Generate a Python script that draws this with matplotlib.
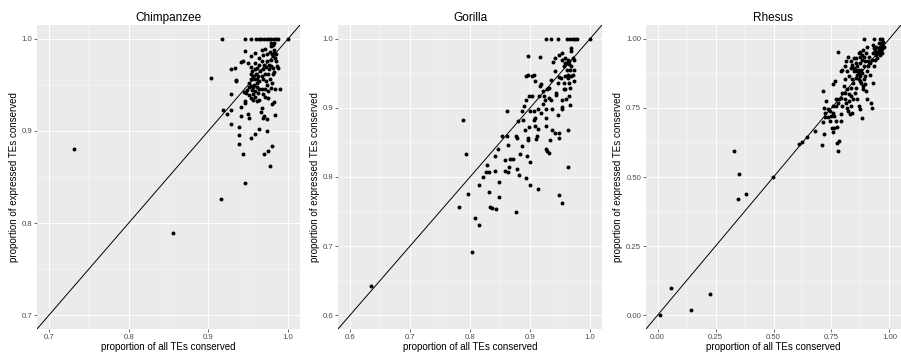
import matplotlib
matplotlib.use("Agg")
import matplotlib.pyplot as plt
import numpy as np

# -----------------------------
# data
# -----------------------------
chimp_x = [0.731, 0.856, 0.916, 0.946, 0.917, 0.903, 1.0,
           0.946, 0.953, 0.960, 0.963, 0.966, 0.970, 0.973, 0.976, 0.979, 0.982, 0.985, 0.988,
           0.946, 0.941, 0.943, 0.934, 0.929, 0.935, 0.935, 0.929, 0.918, 0.924, 0.928, 0.929,
           0.939, 0.938, 0.938, 0.943, 0.941, 0.941, 0.946, 0.946, 0.945, 0.950, 0.951, 0.954,
           0.959, 0.963, 0.966, 0.968, 0.970, 0.974, 0.973, 0.970, 0.975, 0.977, 0.980, 0.980,
           0.982, 0.984, 0.990, 0.984, 0.975, 0.975, 0.967, 0.961, 0.959, 0.955, 0.951, 0.953,
           0.950, 0.953, 0.959, 0.967, 0.971, 0.978, 0.981, 0.982, 0.983, 0.981, 0.984, 0.985,
           0.985, 0.979, 0.976, 0.973, 0.970, 0.967, 0.963, 0.961, 0.959, 0.955, 0.954, 0.956,
           0.960, 0.962, 0.965, 0.968, 0.972, 0.976, 0.979, 0.981, 0.981, 0.977, 0.972, 0.968,
           0.964, 0.961, 0.957, 0.954, 0.951, 0.956, 0.961, 0.963, 0.967, 0.971, 0.968, 0.962,
           0.959, 0.956, 0.951, 0.948, 0.947, 0.953, 0.956, 0.964, 0.971, 0.978, 0.975, 0.971,
           0.967, 0.954, 0.958, 0.963, 0.969, 0.974, 0.977, 0.980, 0.978, 0.982, 0.986, 0.987,
           0.983, 0.980, 0.974, 0.961, 0.959, 0.955]
chimp_y = [0.880, 0.789, 0.826, 0.844, 1.0, 0.958, 1.0,
           1.0, 1.0, 1.0, 1.0, 1.0, 1.0, 1.0, 1.0, 1.0, 1.0, 1.0, 1.0,
           0.987, 0.975, 0.976, 0.968, 0.967, 0.955, 0.954, 0.940, 0.923, 0.918, 0.923, 0.908,
           0.904, 0.896, 0.886, 0.875, 0.926, 0.916, 0.930, 0.933, 0.942, 0.918, 0.914, 0.892,
           0.897, 0.902, 0.921, 0.914, 0.916, 0.913, 0.900, 0.875, 0.878, 0.862, 0.884, 0.929,
           0.931, 0.945, 0.946, 0.917, 0.936, 0.943, 0.925, 0.933, 0.937, 0.944, 0.952, 0.956,
           0.974, 0.981, 0.985, 0.988, 0.989, 0.992, 0.993, 0.988, 0.985, 0.981, 0.979, 0.976,
           0.984, 0.977, 0.972, 0.976, 0.972, 0.976, 0.972, 0.968, 0.967, 0.965, 0.962, 0.960,
           0.962, 0.960, 0.965, 0.967, 0.969, 0.967, 0.971, 0.968, 0.962, 0.956, 0.954, 0.956,
           0.954, 0.952, 0.950, 0.949, 0.948, 0.948, 0.948, 0.946, 0.945, 0.945, 0.940, 0.941,
           0.943, 0.940, 0.939, 0.944, 0.941, 0.936, 0.934, 0.934, 0.937, 0.947, 0.962, 0.962,
           0.960, 0.969, 0.974, 0.979, 0.982, 0.983, 0.986, 0.984, 0.995, 0.995, 0.971, 0.968,
           0.964, 0.952, 0.950, 0.956, 0.956, 0.956]

gorilla_x = [0.927, 0.935, 0.947, 0.962, 0.966, 0.971, 0.975, 0.979, 1.0, 0.635,
             0.789, 0.794, 0.782, 0.797, 0.808, 0.815, 0.804, 0.815, 0.821, 0.827, 0.828,
             0.832, 0.831, 0.834, 0.837, 0.843, 0.849, 0.849, 0.841, 0.841, 0.846, 0.854,
             0.861, 0.861, 0.858, 0.859, 0.863, 0.864, 0.865, 0.867, 0.871, 0.876, 0.877,
             0.879, 0.880, 0.879, 0.881, 0.883, 0.887, 0.886, 0.890, 0.889, 0.892, 0.893,
             0.893, 0.894, 0.896, 0.896, 0.896, 0.896, 0.895, 0.898, 0.898, 0.900, 0.900,
             0.900, 0.903, 0.904, 0.906, 0.906, 0.906, 0.908, 0.908, 0.909, 0.910, 0.911,
             0.913, 0.913, 0.914, 0.915, 0.916, 0.917, 0.918, 0.919, 0.921, 0.922, 0.924,
             0.925, 0.926, 0.926, 0.927, 0.927, 0.929, 0.932, 0.928, 0.931, 0.932, 0.935,
             0.935, 0.936, 0.933, 0.937, 0.941, 0.941, 0.938, 0.942, 0.948, 0.953, 0.943,
             0.944, 0.946, 0.948, 0.951, 0.947, 0.948, 0.949, 0.948, 0.953, 0.953, 0.954,
             0.953, 0.956, 0.957, 0.958, 0.959, 0.960, 0.961, 0.963, 0.965, 0.964, 0.965,
             0.965, 0.964, 0.963, 0.966, 0.967, 0.968, 0.969, 0.971, 0.969, 0.969, 0.973,
             0.973, 0.974, 0.965, 0.961, 0.957, 0.967, 0.972, 0.964, 0.953, 0.958, 0.958]
gorilla_y = [1.0, 1.0, 1.0, 1.0, 1.0, 1.0, 1.0, 1.0, 1.0, 0.642,
             0.883, 0.833, 0.756, 0.776, 0.741, 0.730, 0.692, 0.789, 0.800, 0.807, 0.817,
             0.807, 0.778, 0.756, 0.755, 0.754, 0.793, 0.771, 0.808, 0.830, 0.840, 0.859,
             0.860, 0.896, 0.824, 0.809, 0.807, 0.847, 0.814, 0.826, 0.826, 0.750, 0.859,
             0.857, 0.881, 0.812, 0.803, 0.834, 0.845, 0.896, 0.903, 0.883, 0.868, 0.798,
             0.912, 0.946, 0.947, 0.975, 0.856, 0.854, 0.830, 0.917, 0.872, 0.895, 0.821,
             0.789, 0.917, 0.946, 0.948, 0.882, 0.895, 0.886, 0.874, 0.939, 0.855, 0.859,
             0.869, 0.783, 0.899, 0.917, 0.974, 0.932, 0.934, 0.893, 0.905, 0.924, 0.917,
             0.912, 0.898, 0.886, 0.874, 0.840, 0.838, 0.835, 0.927, 0.929, 0.915, 0.941,
             0.912, 0.898, 0.853, 0.868, 0.864, 0.954, 0.967, 0.972, 0.976, 0.979, 0.919,
             0.922, 0.936, 0.945, 0.943, 0.890, 0.864, 0.857, 0.774, 0.762, 0.899, 0.902,
             0.912, 0.927, 0.936, 0.946, 0.927, 0.913, 0.955, 0.970, 0.968, 0.943, 0.936,
             0.917, 0.868, 0.815, 0.904, 0.929, 0.946, 0.961, 0.972, 0.987, 0.982, 0.970,
             0.955, 0.939, 0.963, 0.965, 0.960, 0.955, 0.948, 0.948, 0.970, 0.972, 0.965]

rhesus_x = [0.011, 0.057, 0.146, 0.227, 0.331, 0.352, 0.347, 0.380, 0.499, 0.611,
            0.624, 0.646, 0.680, 0.709, 0.712, 0.716, 0.713, 0.727, 0.717, 0.724, 0.721,
            0.735, 0.742, 0.749, 0.752, 0.755, 0.760, 0.763, 0.770, 0.773, 0.774, 0.781,
            0.777, 0.758, 0.780, 0.766, 0.770, 0.770, 0.784, 0.791, 0.791, 0.791, 0.797,
            0.802, 0.808, 0.809, 0.815, 0.823, 0.830, 0.836, 0.840, 0.844, 0.813, 0.823,
            0.833, 0.847, 0.854, 0.819, 0.826, 0.833, 0.840, 0.847, 0.844, 0.858, 0.861,
            0.868, 0.861, 0.868, 0.875, 0.877, 0.875, 0.881, 0.889, 0.891, 0.886, 0.896,
            0.900, 0.905, 0.861, 0.875, 0.881, 0.868, 0.907, 0.911, 0.909, 0.916, 0.923,
            0.928, 0.889, 0.935, 0.961, 0.968, 0.920, 0.925, 0.930, 0.935, 0.937, 0.942,
            0.944, 0.947, 0.951, 0.953, 0.955, 0.958, 0.961, 0.964, 0.967, 0.969, 0.972,
            0.975, 0.969, 0.963, 0.954, 0.944, 0.937, 0.933, 0.928, 0.903, 0.886, 0.875,
            0.868, 0.872, 0.881, 0.891, 0.900, 0.881, 0.896, 0.858, 0.840, 0.836, 0.847,
            0.854, 0.861, 0.868, 0.872, 0.877, 0.855, 0.826, 0.819, 0.808, 0.797, 0.808,
            0.791, 0.777, 0.756, 0.744, 0.735, 0.756, 0.797, 0.811, 0.825, 0.833, 0.850,
            0.886, 0.896, 0.905, 0.916]
rhesus_y = [0.0, 0.097, 0.019, 0.078, 0.595, 0.512, 0.420, 0.439, 0.499, 0.621,
            0.627, 0.645, 0.667, 0.616, 0.699, 0.656, 0.812, 0.775, 0.751, 0.733, 0.718,
            0.718, 0.703, 0.721, 0.679, 0.664, 0.679, 0.721, 0.703, 0.681, 0.622, 0.631,
            0.595, 0.837, 0.952, 0.847, 0.757, 0.783, 0.781, 0.727, 0.703, 0.882, 0.805,
            0.829, 0.853, 0.781, 0.751, 0.739, 0.727, 0.757, 0.733, 0.781, 0.918, 0.936,
            0.918, 0.930, 0.912, 0.817, 0.799, 0.823, 0.853, 0.882, 0.841, 0.823, 0.870,
            0.853, 0.903, 0.888, 0.864, 0.888, 0.912, 0.876, 0.900, 0.853, 0.829, 0.835,
            0.811, 0.781, 0.781, 0.745, 0.715, 0.757, 0.918, 0.936, 0.900, 0.870, 0.924,
            0.950, 1.0, 1.0, 1.0, 1.0, 0.769, 0.751, 0.840, 0.900, 0.924, 0.942,
            0.954, 0.930, 0.948, 0.966, 0.960, 0.942, 0.972, 0.954, 0.978, 0.963, 0.987,
            0.972, 0.948, 0.984, 0.984, 0.972, 0.960, 0.966, 0.978, 0.972, 0.960, 0.954,
            0.948, 0.936, 0.942, 0.936, 0.948, 0.924, 0.918, 0.930, 0.906, 0.894, 0.894,
            0.888, 0.882, 0.876, 0.847, 0.841, 0.859, 0.864, 0.882, 0.900, 0.888, 0.805,
            0.787, 0.769, 0.757, 0.739, 0.745, 0.733, 0.757, 0.769, 0.775, 0.793, 0.805,
            0.817, 0.864, 0.882, 0.912]

titles = ["Chimpanzee", "Gorilla", "Rhesus"]
limits = [(0.685, 1.015), (0.58, 1.02), (-0.05, 1.05)]
major_ticks = [[0.7, 0.8, 0.9, 1.0],
               [0.6, 0.7, 0.8, 0.9, 1.0],
               [0.0, 0.25, 0.5, 0.75, 1.0]]
minor_ticks = [[0.75, 0.85, 0.95],
               [0.65, 0.75, 0.85, 0.95],
               [0.125, 0.375, 0.625, 0.875]]
tick_labels = [["0.7", "0.8", "0.9", "1.0"],
               ["0.6", "0.7", "0.8", "0.9", "1.0"],
               ["0.00", "0.25", "0.50", "0.75", "1.00"]]

xs = [chimp_x, gorilla_x, rhesus_x]
ys = [chimp_y, gorilla_y, rhesus_y]

# -----------------------------
# figure, ggplot-like look
# -----------------------------
plt.rcParams['font.family'] = ['Liberation Sans', 'DejaVu Sans']

fig = plt.figure(figsize=(9.01, 3.58), dpi=100)
W, H = 901, 358
# panel boxes in pixels: left, right, top, bottom
boxes = [(37, 300, 25, 329), (338, 602, 25, 329), (646, 901, 25, 329)]

for i in range(3):
    l, r, t, b = boxes[i]
    ax = fig.add_axes([l / W, (H - b) / H, (r - l) / W, (b - t) / H])
    ax.set_facecolor("#EBEBEB")
    for s in ax.spines.values():
        s.set_visible(False)

    lo, hi = limits[i]
    ax.set_xlim(lo, hi)
    ax.set_ylim(lo, hi)
    ax.set_xticks(major_ticks[i])
    ax.set_yticks(major_ticks[i])
    ax.set_xticklabels(tick_labels[i])
    ax.set_yticklabels(tick_labels[i])
    ax.set_xticks(minor_ticks[i], minor=True)
    ax.set_yticks(minor_ticks[i], minor=True)
    ax.tick_params(which="major", length=2, width=0.5, color="#333333",
                   labelsize=5.6, labelcolor="#4D4D4D", pad=1.5)
    ax.tick_params(which="minor", length=0)
    ax.grid(which="major", color="white", linewidth=0.7)
    ax.grid(which="minor", color="white", linewidth=0.35)
    ax.set_axisbelow(True)

    # identity line
    ax.plot([lo, hi], [lo, hi], color="black", linewidth=0.7, zorder=2)
    ax.scatter(xs[i], ys[i], s=8, color="black", linewidths=0, zorder=3)

    ax.set_title(titles[i], fontsize=8.5, pad=3)
    ax.set_xlabel("proportion of all TEs conserved", fontsize=7, labelpad=1)
    ax.set_ylabel("proportion of expressed TEs conserved", fontsize=7, labelpad=2)

plt.savefig("out.png", dpi=100)
plt.close()
